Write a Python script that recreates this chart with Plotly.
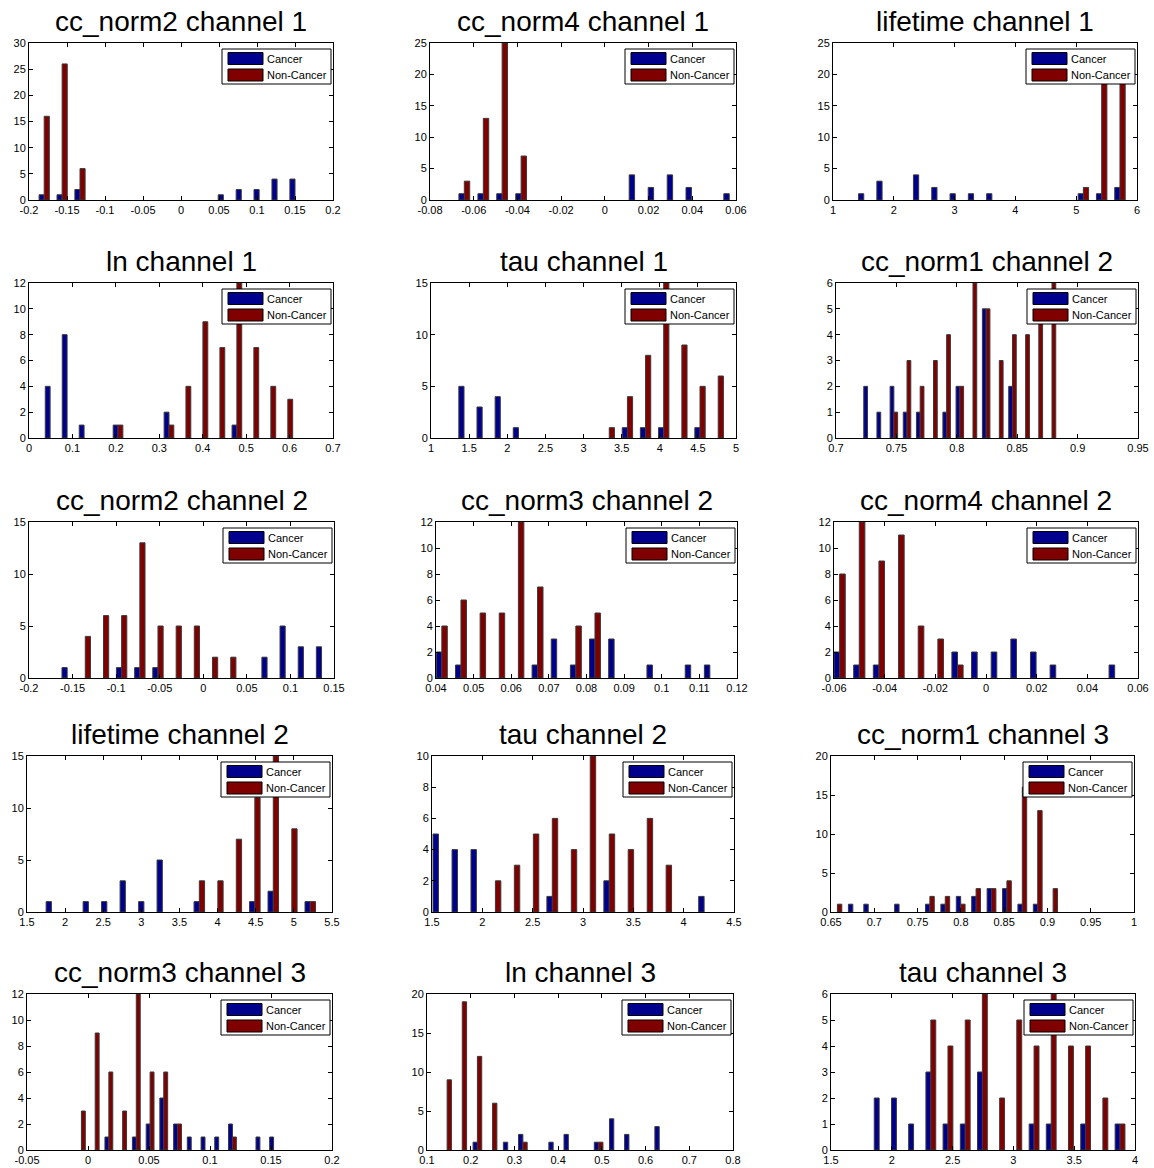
import plotly.graph_objects as go
from plotly.subplots import make_subplots

W, H = 1154, 1168

# ---------------- histogram data: bin centres and counts per class ----------------
cc_norm2_ch1_bins = [-0.1800, -0.1564, -0.1329, -0.1093, -0.0857, -0.0622, -0.0386, -0.0150,
                     0.0086, 0.0321, 0.0557, 0.0793, 0.1028, 0.1264, 0.1500]
cc_norm2_ch1_cancer = [1, 1, 2, 0, 0, 0, 0, 0, 0, 0, 1, 2, 2, 4, 4]
cc_norm2_ch1_noncancer = [16, 26, 6, 0, 0, 0, 0, 0, 0, 0, 0, 0, 0, 0, 0]
cc_norm2_ch1_xticks = [-0.2, -0.15, -0.1, -0.05, 0, 0.05, 0.1, 0.15, 0.2]
cc_norm2_ch1_yticks = [0, 5, 10, 15, 20, 25, 30]

cc_norm4_ch1_bins = [-0.0643, -0.0556, -0.0470, -0.0383, -0.0297, -0.0210, -0.0123, -0.0037,
                     0.0050, 0.0136, 0.0223, 0.0310, 0.0396, 0.0483, 0.0569]
cc_norm4_ch1_cancer = [1, 1, 1, 1, 0, 0, 0, 0, 0, 4, 2, 4, 2, 0, 1]
cc_norm4_ch1_noncancer = [3, 13, 25, 7, 0, 0, 0, 0, 0, 0, 0, 0, 0, 0, 0]
cc_norm4_ch1_xticks = [-0.08, -0.06, -0.04, -0.02, 0, 0.02, 0.04, 0.06]
cc_norm4_ch1_yticks = [0, 5, 10, 15, 20, 25]

lifetime_ch1_bins = [1.506, 1.807, 2.108, 2.409, 2.710, 3.011, 3.312, 3.613,
                     3.914, 4.215, 4.516, 4.817, 5.118, 5.419, 5.720]
lifetime_ch1_cancer = [1, 3, 0, 4, 2, 1, 1, 1, 0, 0, 0, 0, 1, 1, 2]
lifetime_ch1_noncancer = [0, 0, 0, 0, 0, 0, 0, 0, 0, 0, 0, 0, 2, 23, 23]
lifetime_ch1_xticks = [1, 2, 3, 4, 5, 6]
lifetime_ch1_yticks = [0, 5, 10, 15, 20, 25]

ln_ch1_bins = [0.0486, 0.0877, 0.1268, 0.1659, 0.2050, 0.2441, 0.2832, 0.3223,
               0.3614, 0.4005, 0.4396, 0.4787, 0.5178, 0.5569, 0.5960]
ln_ch1_cancer = [4, 8, 1, 0, 1, 0, 0, 2, 0, 0, 0, 1, 0, 0, 0]
ln_ch1_noncancer = [0, 0, 0, 0, 1, 0, 0, 1, 4, 9, 7, 12, 7, 4, 3]
ln_ch1_xticks = [0, 0.1, 0.2, 0.3, 0.4, 0.5, 0.6, 0.7]
ln_ch1_yticks = [0, 2, 4, 6, 8, 10, 12]

tau_ch1_bins = [1.433, 1.671, 1.909, 2.147, 2.385, 2.624, 2.862, 3.100,
                3.338, 3.576, 3.814, 4.052, 4.290, 4.528, 4.767]
tau_ch1_cancer = [5, 3, 4, 1, 0, 0, 0, 0, 0, 1, 1, 1, 0, 1, 0]
tau_ch1_noncancer = [0, 0, 0, 0, 0, 0, 0, 0, 1, 4, 8, 15, 9, 5, 6]
tau_ch1_xticks = [1, 1.5, 2, 2.5, 3, 3.5, 4, 4.5, 5]
tau_ch1_yticks = [0, 5, 10, 15]

cc_norm1_ch2_bins = [0.7261, 0.7370, 0.7479, 0.7588, 0.7697, 0.7807, 0.7916, 0.8025,
                     0.8134, 0.8243, 0.8352, 0.8461, 0.8570, 0.8679, 0.8788]
cc_norm1_ch2_cancer = [2, 1, 2, 1, 1, 0, 1, 2, 0, 5, 0, 2, 0, 0, 0]
cc_norm1_ch2_noncancer = [0, 0, 1, 3, 2, 3, 4, 2, 6, 5, 3, 4, 4, 5, 6]
cc_norm1_ch2_xticks = [0.7, 0.75, 0.8, 0.85, 0.9, 0.95]
cc_norm1_ch2_yticks = [0, 1, 2, 3, 4, 5, 6]

cc_norm2_ch2_bins = [-0.1562, -0.1354, -0.1145, -0.0937, -0.0728, -0.0520, -0.0311, -0.0103,
                     0.0106, 0.0315, 0.0523, 0.0732, 0.0940, 0.1149, 0.1357]
cc_norm2_ch2_cancer = [1, 0, 0, 1, 1, 1, 0, 0, 0, 0, 0, 2, 5, 3, 3]
cc_norm2_ch2_noncancer = [0, 4, 6, 6, 13, 5, 5, 5, 2, 2, 0, 0, 0, 0, 0]
cc_norm2_ch2_xticks = [-0.2, -0.15, -0.1, -0.05, 0, 0.05, 0.1, 0.15]
cc_norm2_ch2_yticks = [0, 5, 10, 15]

cc_norm3_ch2_bins = [0.04155, 0.04664, 0.05173, 0.05681, 0.06190, 0.06699, 0.07208, 0.07717,
                     0.08225, 0.08734, 0.09243, 0.09752, 0.10261, 0.10769, 0.11278]
cc_norm3_ch2_cancer = [2, 1, 0, 0, 0, 1, 3, 1, 3, 3, 0, 1, 0, 1, 1]
cc_norm3_ch2_noncancer = [4, 6, 5, 5, 12, 7, 0, 4, 5, 0, 0, 0, 0, 0, 0]
cc_norm3_ch2_xticks = [0.04, 0.05, 0.06, 0.07, 0.08, 0.09, 0.1, 0.11, 0.12]
cc_norm3_ch2_yticks = [0, 2, 4, 6, 8, 10, 12]

cc_norm4_ch2_bins = [-0.05777, -0.05002, -0.04226, -0.03451, -0.02675, -0.01900, -0.01125, -0.00349,
                     0.00426, 0.01202, 0.01977, 0.02752, 0.03528, 0.04303, 0.05079]
cc_norm4_ch2_cancer = [2, 1, 1, 0, 0, 0, 2, 2, 2, 3, 2, 1, 0, 0, 1]
cc_norm4_ch2_noncancer = [8, 12, 9, 11, 4, 3, 1, 0, 0, 0, 0, 0, 0, 0, 0]
cc_norm4_ch2_xticks = [-0.06, -0.04, -0.02, 0, 0.02, 0.04, 0.06]
cc_norm4_ch2_yticks = [0, 2, 4, 6, 8, 10, 12]

lifetime_ch2_bins = [1.820, 2.062, 2.305, 2.547, 2.790, 3.033, 3.275, 3.518,
                     3.760, 4.003, 4.245, 4.488, 4.730, 4.973, 5.215]
lifetime_ch2_cancer = [1, 0, 1, 1, 3, 1, 5, 0, 1, 0, 0, 1, 2, 0, 1]
lifetime_ch2_noncancer = [0, 0, 0, 0, 0, 0, 0, 0, 3, 3, 7, 11, 15, 8, 1]
lifetime_ch2_xticks = [1.5, 2, 2.5, 3, 3.5, 4, 4.5, 5, 5.5]
lifetime_ch2_yticks = [0, 5, 10, 15]

tau_ch2_bins = [1.564, 1.753, 1.941, 2.130, 2.318, 2.507, 2.695, 2.884,
                3.072, 3.261, 3.449, 3.638, 3.826, 4.015, 4.203]
tau_ch2_cancer = [5, 4, 4, 0, 0, 0, 1, 0, 0, 2, 0, 0, 0, 0, 1]
tau_ch2_noncancer = [0, 0, 0, 2, 3, 5, 6, 4, 10, 5, 4, 6, 3, 0, 0]
tau_ch2_xticks = [1.5, 2, 2.5, 3, 3.5, 4, 4.5]
tau_ch2_yticks = [0, 2, 4, 6, 8, 10]

cc_norm1_ch3_bins = [0.6574, 0.6752, 0.6930, 0.7108, 0.7286, 0.7464, 0.7642, 0.7820,
                     0.7998, 0.8176, 0.8354, 0.8532, 0.8710, 0.8888, 0.9066]
cc_norm1_ch3_cancer = [0, 1, 1, 0, 1, 0, 1, 1, 2, 2, 3, 3, 1, 1, 0]
cc_norm1_ch3_noncancer = [1, 0, 0, 0, 0, 0, 2, 2, 1, 3, 3, 4, 16, 13, 3]
cc_norm1_ch3_xticks = [0.65, 0.7, 0.75, 0.8, 0.85, 0.9, 0.95, 1]
cc_norm1_ch3_yticks = [0, 5, 10, 15, 20]

cc_norm3_ch3_bins = [-0.0054, 0.0059, 0.0171, 0.0284, 0.0396, 0.0509, 0.0621, 0.0734,
                     0.0846, 0.0959, 0.1071, 0.1184, 0.1296, 0.1409, 0.1521]
cc_norm3_ch3_cancer = [0, 0, 1, 0, 1, 2, 4, 2, 1, 1, 1, 2, 0, 1, 1]
cc_norm3_ch3_noncancer = [3, 9, 6, 3, 12, 6, 6, 2, 0, 0, 0, 1, 0, 0, 0]
cc_norm3_ch3_xticks = [-0.05, 0, 0.05, 0.1, 0.15, 0.2]
cc_norm3_ch3_yticks = [0, 2, 4, 6, 8, 10, 12]

ln_ch3_bins = [0.1460, 0.1807, 0.2153, 0.2500, 0.2846, 0.3193, 0.3540, 0.3886,
               0.4233, 0.4579, 0.4926, 0.5273, 0.5619, 0.5966, 0.6312]
ln_ch3_cancer = [0, 0, 1, 0, 1, 2, 0, 1, 2, 0, 1, 4, 2, 0, 3]
ln_ch3_noncancer = [9, 19, 12, 6, 0, 1, 0, 0, 0, 0, 1, 0, 0, 0, 0]
ln_ch3_xticks = [0.1, 0.2, 0.3, 0.4, 0.5, 0.6, 0.7, 0.8]
ln_ch3_yticks = [0, 5, 10, 15, 20]

tau_ch3_bins = [1.896, 2.038, 2.179, 2.321, 2.462, 2.604, 2.745, 2.887,
                3.028, 3.170, 3.311, 3.453, 3.594, 3.736, 3.877]
tau_ch3_cancer = [2, 2, 1, 3, 1, 1, 3, 0, 0, 1, 1, 0, 1, 0, 1]
tau_ch3_noncancer = [0, 0, 0, 5, 4, 5, 6, 2, 5, 4, 6, 4, 4, 2, 1]
tau_ch3_xticks = [1.5, 2, 2.5, 3, 3.5, 4]
tau_ch3_yticks = [0, 1, 2, 3, 4, 5, 6]

series_names = ["Cancer", "Non-Cancer"]

panels = [
    ("cc_norm2 channel 1", cc_norm2_ch1_bins, cc_norm2_ch1_cancer, cc_norm2_ch1_noncancer, cc_norm2_ch1_xticks, cc_norm2_ch1_yticks),
    ("cc_norm4 channel 1", cc_norm4_ch1_bins, cc_norm4_ch1_cancer, cc_norm4_ch1_noncancer, cc_norm4_ch1_xticks, cc_norm4_ch1_yticks),
    ("lifetime channel 1", lifetime_ch1_bins, lifetime_ch1_cancer, lifetime_ch1_noncancer, lifetime_ch1_xticks, lifetime_ch1_yticks),
    ("ln channel 1", ln_ch1_bins, ln_ch1_cancer, ln_ch1_noncancer, ln_ch1_xticks, ln_ch1_yticks),
    ("tau channel 1", tau_ch1_bins, tau_ch1_cancer, tau_ch1_noncancer, tau_ch1_xticks, tau_ch1_yticks),
    ("cc_norm1 channel 2", cc_norm1_ch2_bins, cc_norm1_ch2_cancer, cc_norm1_ch2_noncancer, cc_norm1_ch2_xticks, cc_norm1_ch2_yticks),
    ("cc_norm2 channel 2", cc_norm2_ch2_bins, cc_norm2_ch2_cancer, cc_norm2_ch2_noncancer, cc_norm2_ch2_xticks, cc_norm2_ch2_yticks),
    ("cc_norm3 channel 2", cc_norm3_ch2_bins, cc_norm3_ch2_cancer, cc_norm3_ch2_noncancer, cc_norm3_ch2_xticks, cc_norm3_ch2_yticks),
    ("cc_norm4 channel 2", cc_norm4_ch2_bins, cc_norm4_ch2_cancer, cc_norm4_ch2_noncancer, cc_norm4_ch2_xticks, cc_norm4_ch2_yticks),
    ("lifetime channel 2", lifetime_ch2_bins, lifetime_ch2_cancer, lifetime_ch2_noncancer, lifetime_ch2_xticks, lifetime_ch2_yticks),
    ("tau channel 2", tau_ch2_bins, tau_ch2_cancer, tau_ch2_noncancer, tau_ch2_xticks, tau_ch2_yticks),
    ("cc_norm1 channel 3", cc_norm1_ch3_bins, cc_norm1_ch3_cancer, cc_norm1_ch3_noncancer, cc_norm1_ch3_xticks, cc_norm1_ch3_yticks),
    ("cc_norm3 channel 3", cc_norm3_ch3_bins, cc_norm3_ch3_cancer, cc_norm3_ch3_noncancer, cc_norm3_ch3_xticks, cc_norm3_ch3_yticks),
    ("ln channel 3", ln_ch3_bins, ln_ch3_cancer, ln_ch3_noncancer, ln_ch3_xticks, ln_ch3_yticks),
    ("tau channel 3", tau_ch3_bins, tau_ch3_cancer, tau_ch3_noncancer, tau_ch3_xticks, tau_ch3_yticks),
]

# ---------------- layout (pixel boxes of each axes: left, right, top, bottom) ----------------
AXES_BOX = [
    [(29, 333, 43, 200), (430, 736, 43, 200), (833, 1137, 43, 200)],
    [(29, 333, 283, 438), (431, 736, 283, 438), (836, 1138, 283, 438)],
    [(29, 334, 522, 678), (436, 737, 522, 678), (834, 1138, 522, 678)],
    [(27, 332, 756, 912), (432, 734, 756, 912), (831, 1134, 756, 912)],
    [(27, 332, 994, 1150), (427, 733, 994, 1150), (831, 1135, 994, 1150)],
]

BLUE = "#00008F"
RED = "#800000"
EDGE = "#3a3a3a"
FONT = "Liberation Sans, Arial, Helvetica, sans-serif"


def px_x(v):
    return v / W


def px_y(v):
    return 1 - v / H


def tick_label(v):
    s = f"{round(v, 6):g}"
    return "0" if s == "-0" else s


def nonzero(counts):
    # empty bins draw no bar at all
    return [v if v else None for v in counts]


fig = make_subplots(rows=5, cols=3)

for i, (title, bins, cancer, noncancer, xticks, yticks) in enumerate(panels):
    r, c = divmod(i, 3)
    left, right, top, bottom = AXES_BOX[r][c]
    step = (bins[-1] - bins[0]) / (len(bins) - 1)
    bw = 0.285 * step

    fig.add_trace(go.Bar(x=bins, y=nonzero(cancer), width=bw, offset=-bw, name=series_names[0],
                         marker=dict(color=BLUE, line=dict(color=EDGE, width=1)),
                         showlegend=False), row=r + 1, col=c + 1)
    fig.add_trace(go.Bar(x=bins, y=nonzero(noncancer), width=bw, offset=0, name=series_names[1],
                         marker=dict(color=RED, line=dict(color=EDGE, width=1)),
                         showlegend=False), row=r + 1, col=c + 1)

    suffix = "" if i == 0 else str(i + 1)
    common = dict(showline=True, linecolor="black", linewidth=1, mirror="ticks",
                  ticks="inside", ticklen=4, tickwidth=1, tickcolor="black",
                  showgrid=False, zeroline=False, fixedrange=True, automargin=False,
                  tickfont=dict(family=FONT, size=11, color="black"))
    fig.layout["xaxis" + suffix].update(
        domain=[px_x(left), px_x(right)], range=[xticks[0], xticks[-1]],
        tickmode="array", tickvals=xticks, ticktext=[tick_label(v) for v in xticks], **common)
    fig.layout["yaxis" + suffix].update(
        domain=[px_y(bottom), px_y(top)], range=[yticks[0], yticks[-1]],
        tickmode="array", tickvals=yticks, ticktext=[tick_label(v) for v in yticks], **common)

    # panel title
    fig.add_annotation(text=title, xref="paper", yref="paper",
                       x=px_x((left + right) / 2), y=px_y(top - 22),
                       xanchor="center", yanchor="middle", showarrow=False,
                       font=dict(family=FONT, size=28, color="black"))

    # legend box in the upper-right corner of each axes
    lb_r = right - 2
    lb_l = lb_r - 109
    lb_t = top + 6
    lb_b = lb_t + 35
    fig.add_shape(type="rect", xref="paper", yref="paper", layer="above",
                  x0=px_x(lb_l), x1=px_x(lb_r), y0=px_y(lb_b), y1=px_y(lb_t),
                  fillcolor="white", line=dict(color="black", width=1))
    for k, (name, col) in enumerate(zip(series_names, [BLUE, RED])):
        sw_t = lb_t + 3.5 + k * 16.5
        sw_l = lb_l + 6
        fig.add_shape(type="rect", xref="paper", yref="paper", layer="above",
                      x0=px_x(sw_l), x1=px_x(sw_l + 35), y0=px_y(sw_t + 12), y1=px_y(sw_t),
                      fillcolor=col, line=dict(color="black", width=1))
        fig.add_annotation(text=name, xref="paper", yref="paper",
                           x=px_x(sw_l + 37), y=px_y(sw_t + 6),
                           xanchor="left", yanchor="middle", showarrow=False,
                           font=dict(family=FONT, size=11, color="black"))

fig.update_layout(
    width=W, height=H, autosize=False,
    margin=dict(l=0, r=0, t=0, b=0, autoexpand=False),
    paper_bgcolor="white", plot_bgcolor="white",
    barmode="overlay", showlegend=False,
    font=dict(family=FONT, color="black"),
)

fig.write_html("out.html")
